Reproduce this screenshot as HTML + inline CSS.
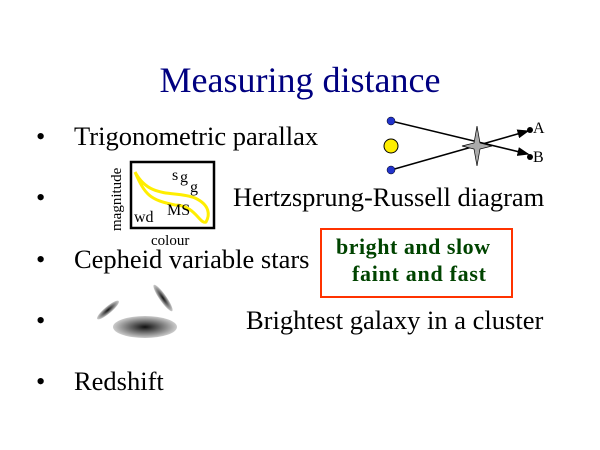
<!DOCTYPE html>
<html><head><style>
body{margin:0;width:600px;height:450px;background:#fff;overflow:hidden;font-family:"Liberation Serif",serif;}
</style></head><body>
<svg width="600" height="450" style="position:absolute;left:0;top:0">
<defs>
<radialGradient id="g"><stop offset="0" stop-color="#111"/><stop offset="1" stop-color="#ccc"/></radialGradient>
<marker id="ar" markerWidth="8" markerHeight="6" refX="7" refY="3" orient="auto"><path d="M0,0L8,3L0,6z" fill="#000"/></marker>
</defs>
<text x="300" y="92" text-anchor="middle" font-family="Liberation Serif" font-size="36" fill="#000080">Measuring distance</text>
<g font-family="Liberation Serif" font-size="26.5" fill="#000">
<text x="36" y="145">•</text><text x="74" y="145">Trigonometric parallax</text>
<text x="36" y="206">•</text><text x="233" y="206">Hertzsprung-Russell diagram</text>
<text x="36" y="268">•</text><text x="74" y="268">Cepheid variable stars</text>
<text x="36" y="329">•</text><text x="246" y="329">Brightest galaxy in a cluster</text>
<text x="36" y="390">•</text><text x="74" y="390">Redshift</text>
</g>
<line x1="391" y1="121" x2="528" y2="154" stroke="#000" stroke-width="1.5" marker-end="url(#ar)"/>
<line x1="391" y1="170" x2="528" y2="131" stroke="#000" stroke-width="1.5" marker-end="url(#ar)"/>
<circle cx="391" cy="121" r="4" fill="#2233cc" stroke="#000" stroke-width="0.5"/>
<circle cx="391" cy="170" r="4" fill="#2233cc" stroke="#000" stroke-width="0.5"/>
<circle cx="391" cy="146" r="7" fill="#ffee00" stroke="#000" stroke-width="1"/>
<path d="M477,126 L480,143 L492,146 L480,149 L477,166 L474,149 L462,146 L474,143z" fill="#aaa" stroke="#000" stroke-width="0.7"/>
<circle cx="530" cy="130" r="3" fill="#000"/><circle cx="530" cy="157" r="3" fill="#000"/>
<text x="533" y="133" font-family="Liberation Serif" font-size="16">A</text>
<text x="533" y="162" font-family="Liberation Serif" font-size="16">B</text>
<rect x="131" y="162" width="83" height="66" fill="none" stroke="#000" stroke-width="2.5"/>
<path d="M135,172 C150,200 175,190 195,198 C210,205 210,215 206,222 C200,225 195,205 175,205 C150,200 145,195 135,172" fill="none" stroke="#ffee00" stroke-width="3"/>
<g font-family="Liberation Serif" font-size="16">
<text x="172" y="180">s</text><text x="180" y="182">g</text><text x="190" y="192">g</text>
<text x="167" y="215">MS</text><text x="134" y="222">wd</text>
<text x="151" y="245" font-size="15">colour</text>
<text transform="translate(121,231) rotate(-90)" font-size="15">magnitude</text>
</g>
<rect x="321" y="229" width="191" height="68" fill="none" stroke="#ff3300" stroke-width="2"/>
<g font-family="Liberation Serif" font-size="22" font-weight="bold" fill="#004400">
<text x="336" y="254" textLength="154">bright and slow</text><text x="352" y="281" textLength="134">faint and fast</text>
</g>
<ellipse cx="145" cy="327" rx="32" ry="11" fill="url(#g)"/>
<ellipse cx="108" cy="310" rx="3.5" ry="14" transform="rotate(50 108 310)" fill="url(#g)"/>
<ellipse cx="163" cy="298" rx="3.5" ry="16" transform="rotate(-35 163 298)" fill="url(#g)"/>
</svg>
</body></html>
